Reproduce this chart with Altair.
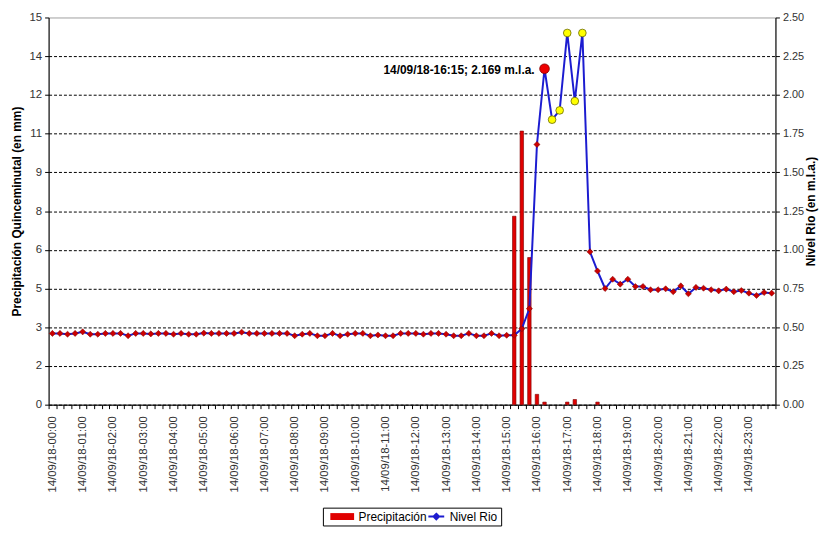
import altair as alt
import pandas as pd

# ---- categories (15-minute steps on 14/09/18) ----
horas = [f"{h:02d}" for h in range(24)]
minutos = ["00", "15", "30", "45"]
tiempos = [f"14/09/18-{h}:{m}" for h in horas for m in minutos]

# ---- river level (m.l.a.) ----
nivel = [
    0.46, 0.46, 0.455, 0.46, 0.47, 0.455, 0.455, 0.46, 0.46, 0.46,
    0.445, 0.46, 0.46, 0.457, 0.46, 0.46, 0.455, 0.46, 0.455, 0.455,
    0.462, 0.46, 0.46, 0.46, 0.46, 0.468, 0.46, 0.46, 0.46, 0.46,
    0.46, 0.46, 0.445, 0.455, 0.46, 0.445, 0.445, 0.46, 0.445, 0.455,
    0.46, 0.46, 0.445, 0.45, 0.445, 0.445, 0.46, 0.46, 0.46, 0.455,
    0.46, 0.46, 0.455, 0.445, 0.445, 0.46, 0.445, 0.445, 0.46, 0.445,
    0.448, 0.448, 0.49, 0.62, 1.68, 2.169, 1.84, 1.90, 2.40, 1.96,
    2.40, 0.987, 0.863, 0.75, 0.81, 0.778, 0.81, 0.763, 0.763, 0.742,
    0.742, 0.748, 0.729, 0.767, 0.716, 0.757, 0.752, 0.742, 0.735, 0.746,
    0.729, 0.737, 0.72, 0.705, 0.724, 0.72,
]

# ---- 15-minute precipitation (mm) ----
precip = (
    [0.0] * 61
    + [7.3, 10.6, 5.7, 0.4, 0.1, 0.0, 0.0, 0.1, 0.2, 0.0, 0.0, 0.1]
    + [0.0] * 23
)

# highlighted points: maximum (red) and high readings (yellow)
marca = {65: "max", 66: "alto", 67: "alto", 68: "alto", 69: "alto", 70: "alto"}

serie_precip = "Precipitación"
serie_nivel = "Nivel Rio"
left_ticks = [0, 1.5, 3, 4.5, 6, 7.5, 9, 10.5, 12, 13.5, 15]
right_ticks = [0, 0.25, 0.5, 0.75, 1.0, 1.25, 1.5, 1.75, 2.0, 2.25, 2.5]

marcas = [marca.get(i, "normal") for i in range(len(tiempos))]
df = pd.DataFrame({
    "t": tiempos,
    "precip": precip,
    "nivel": nivel,
    "marca": marcas,
    "etiqueta": [f"{t}; {v:.3f} m.l.a." for t, v in zip(tiempos, nivel)],
    "serie_p": serie_precip,
    "serie_n": serie_nivel,
})

FONT = "Liberation Sans"
LBL = "#333333"
RED = "#e00000"
BLUE = "#1c1cd0"

x = alt.X(
    "t:N",
    scale=alt.Scale(paddingInner=0, paddingOuter=0),
    axis=alt.Axis(
        title=None, labelAngle=270, labelOverlap=False,
        labelExpr="substring(datum.value, 12) == '00' ? datum.value : ''",
        tickBand="extent", tickSize=4, tickColor="black", domainColor="black",
        labelFontSize=11.5, labelColor=LBL, labelPadding=7, grid=False,
    ),
)

y_left = alt.Y(
    "precip:Q",
    scale=alt.Scale(domain=[0, 15], nice=False, zero=True),
    axis=alt.Axis(
        values=left_ticks, format=".0f", title="Precipitación Quinceminutal (en mm)",
        titleFontSize=12, titleFontWeight="bold", titleColor="black",
        titleAngle=270, titleX=-32, titleY=195.5, titleAlign="center", titleBaseline="middle",
        grid=True, gridColor="black", gridDash=[3, 2], gridWidth=1,
        gridOpacity={"condition": {"test": "datum.value >= 15", "value": 0}, "value": 1},
        tickSize=4, tickColor="black", domainColor="black",
        labelFontSize=11.5, labelColor=LBL, labelPadding=3,
    ),
)

y_right = alt.Y(
    "nivel:Q",
    scale=alt.Scale(domain=[0, 2.5], nice=False, zero=True),
    axis=alt.Axis(
        orient="right", values=right_ticks, format=".2f", title="Nivel Rio (en m.l.a.)",
        titleFontSize=12, titleFontWeight="bold", titleColor="black",
        titleAngle=270, titleX=35, titleY=195.5, titleAlign="center", titleBaseline="middle",
        grid=False, tickSize=4, tickColor="black", domainColor="black",
        labelFontSize=11, labelColor=LBL, labelPadding=3,
    ),
)

# framed legend: rect + "Precipitación", with "Nivel Rio" as right-hand title
bars = alt.Chart(df).transform_filter("datum.precip > 0").mark_bar(
    size=3.5, stroke="#7a0000", strokeWidth=0.6
).encode(
    x=x, y=y_left,
    color=alt.Color("serie_p:N", scale=alt.Scale(range=[RED]), legend=alt.Legend(
        title=serie_nivel, titleOrient="right", titlePadding=23, titleFontSize=12,
        titleFontWeight="normal", titleFont=FONT, titleColor="black",
        orient="none", legendX=277, legendY=495,
        strokeColor="#000000", padding=3, labelFontSize=12, labelFont=FONT, labelColor="black",
        symbolType="M-3.43,-1H3.43V1H-3.43Z", symbolSize=49, symbolStrokeWidth=0,
        symbolOffset=10.5, labelOffset=10.5,
    )),
)

base = alt.Chart(df)
# line symbol of the legend sits in the gap before the "Nivel Rio" title
line = base.mark_line(strokeWidth=2).encode(
    x=x, y=y_right,
    stroke=alt.Stroke("serie_n:N", scale=alt.Scale(range=[BLUE]), legend=alt.Legend(
        title=None, orient="none", legendX=385.5, legendY=498,
        padding=0, labelFontSize=12, labelFont=FONT, labelExpr="''",
        symbolType="M-2,0H2M0,-0.7L0.7,0L0,0.7L-0.7,0Z", symbolSize=64,
        symbolFillColor="#cc0000", symbolStrokeWidth=2, labelOffset=5,
    )),
)
pts = base.transform_filter("datum.marca == 'normal'").mark_point(
    shape="diamond", filled=True, size=38, fill="#cc0000", stroke="#7a0000", strokeWidth=0.5, opacity=1
).encode(x=x, y=y_right)
alto = base.transform_filter("datum.marca == 'alto'").mark_point(
    shape="circle", filled=True, size=60, fill="#ffff00", stroke="#6b6b00", strokeWidth=0.8, opacity=1
).encode(x=x, y=y_right)
maxp = base.transform_filter("datum.marca == 'max'").mark_point(
    shape="circle", filled=True, size=95, fill="#ee0000", stroke="#800000", strokeWidth=0.8, opacity=1
).encode(x=x, y=y_right)
txt = base.transform_filter("datum.marca == 'max'").mark_text(
    align="right", baseline="middle", dx=-10, dy=1, fontSize=12, fontWeight="bold",
    font=FONT, color="black"
).encode(x=x, y=y_right, text="etiqueta:N")

nivel_layer = alt.layer(line, pts, alto, maxp, txt)

chart = alt.layer(bars, nivel_layer).resolve_scale(y="independent").properties(
    width=734, height=391,
    padding={"left": 41, "top": 7, "right": 46, "bottom": 124},
    autosize=alt.AutoSizeParams(type="none"),
    background="white",
).configure_view(stroke="#a0a0a0").configure_axis(
    labelFont=FONT, titleFont=FONT
)

chart.save("out.html", embed_options={"renderer": "svg", "actions": False})
